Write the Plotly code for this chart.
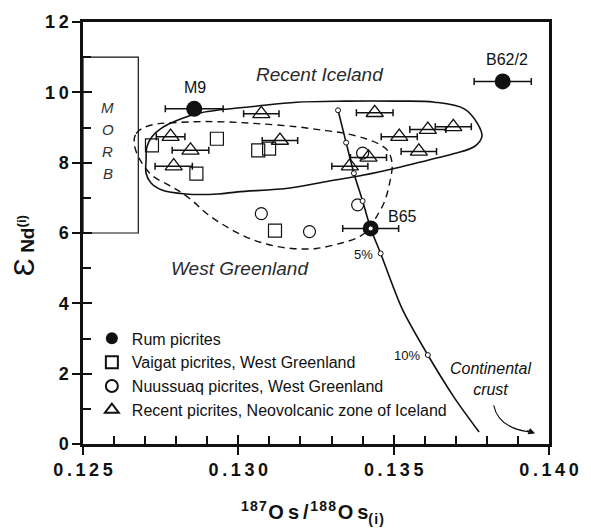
import plotly.graph_objects as go

# ---------------- data ----------------
rum_names = ["M9", "B62/2", "B65"]
rum_x = [0.12858, 0.13851, 0.13426]
rum_y = [9.53, 10.31, 6.13]
rum_xerr = [0.00093, 0.00092, 0.00090]

vaigat_x = [0.12722, 0.12931, 0.12865, 0.13064, 0.13099, 0.13118]
vaigat_y = [8.49, 8.68, 7.69, 8.35, 8.40, 6.07]

nuus_x = [0.13074, 0.13229, 0.13384, 0.13400]
nuus_y = [6.55, 6.04, 6.80, 8.27]

ice_x = [0.12782, 0.12846, 0.12792, 0.13074, 0.13134, 0.13439,
         0.13359, 0.13419, 0.13518, 0.13581, 0.13610, 0.13692]
ice_y = [8.74, 8.35, 7.90, 9.39, 8.63, 9.42,
         7.90, 8.15, 8.74, 8.32, 8.94, 9.02]
ice_xerr = [0.00046, 0.00059, 0.00060, 0.00057, 0.00057, 0.00059,
            0.00058, 0.00058, 0.00058, 0.00057, 0.00058, 0.00058]

# mixing curve towards continental crust
mix_x = [0.13321, 0.13347, 0.13372, 0.13400, 0.13426, 0.13458, 0.13527, 0.13610, 0.13695, 0.13775]
mix_y = [9.49, 8.57, 7.70, 6.91, 6.13, 5.42, 3.85, 2.53, 1.32, 0.34]
mix_marked = [0, 1, 2, 3, 4, 5, 7]

# Recent Iceland field (solid)
iceland_env_x = [0.12703, 0.12706, 0.12722, 0.12754, 0.12808, 0.12880, 0.13061, 0.13188, 0.13346,
                 0.13505, 0.13632, 0.13727, 0.13770, 0.13784, 0.13760, 0.13695, 0.13610, 0.13505,
                 0.13400, 0.13293, 0.13166, 0.12998, 0.12934, 0.12830, 0.12754, 0.12719, 0.12703, 0.12703]
iceland_env_y = [8.07, 8.46, 8.74, 8.99, 9.22, 9.42, 9.61, 9.72, 9.75,
                 9.75, 9.72, 9.53, 9.11, 8.74, 8.46, 8.26, 8.07, 7.84,
                 7.64, 7.48, 7.28, 7.17, 7.11, 7.11, 7.22, 7.42, 7.70, 8.07]

# West Greenland field (dashed)
wg_env_x = [0.12665, 0.12671, 0.12712, 0.12849, 0.12956, 0.13061, 0.13188, 0.13283, 0.13346,
            0.13410, 0.13451, 0.13480, 0.13495, 0.13487, 0.13469, 0.13443, 0.13416, 0.13384,
            0.13330, 0.13251, 0.13172, 0.13093, 0.13007, 0.12903, 0.12849, 0.12808, 0.12776,
            0.12722, 0.12681, 0.12665]
wg_env_y = [8.54, 8.83, 9.05, 9.16, 9.16, 9.11, 9.02, 8.91, 8.83,
            8.68, 8.54, 8.35, 7.98, 7.42, 6.86, 6.44, 6.07, 5.87,
            5.71, 5.56, 5.56, 5.68, 5.96, 6.52, 6.94, 7.20, 7.36,
            7.64, 8.12, 8.54]

morb_x = [0.125, 0.12678]
morb_y = [6.0, 11.0]

x_ticks = [0.125, 0.130, 0.135, 0.140]
x_ticklabels = ["0.125", "0.130", "0.135", "0.140"]
y_ticks = [0, 2, 4, 6, 8, 10, 12]
y_ticklabels = ["0", "2", "4", "6", "8", "10", "12"]

legend_names = ["Rum picrites", "Vaigat picrites, West Greenland",
                "Nuussuaq picrites, West Greenland", "Recent picrites, Neovolcanic zone of Iceland"]

FONT = "Liberation Sans, Arial, Helvetica, sans-serif"
INK = "#111111"
THIN = "\u2009"
HAIR = "\u200a"

def spaced(s):
    return THIN.join(s)

fig = go.Figure()

# envelopes
fig.add_trace(go.Scatter(x=iceland_env_x, y=iceland_env_y, mode="lines",
                         line=dict(color=INK, width=1.6, shape="spline", smoothing=1.0),
                         showlegend=False, hoverinfo="skip"))
fig.add_trace(go.Scatter(x=wg_env_x, y=wg_env_y, mode="lines",
                         line=dict(color=INK, width=1.4, dash="7px,5px", shape="spline", smoothing=1.0),
                         showlegend=False, hoverinfo="skip"))

# mixing curve
fig.add_trace(go.Scatter(x=mix_x, y=mix_y, mode="lines",
                         line=dict(color=INK, width=1.6, shape="spline", smoothing=0.8),
                         showlegend=False, hoverinfo="skip"))

err_style = dict(type="data", thickness=1.5, width=3.5, color=INK)

fig.add_trace(go.Scatter(x=vaigat_x, y=vaigat_y, mode="markers", name=legend_names[1],
                         marker=dict(symbol="square-open", size=13, color=INK, line=dict(width=1.2)),
                         legendrank=2))
fig.add_trace(go.Scatter(x=nuus_x, y=nuus_y, mode="markers", name=legend_names[2],
                         marker=dict(symbol="circle-open", size=12, color=INK, line=dict(width=1.2)),
                         legendrank=3))
fig.add_trace(go.Scatter(x=ice_x, y=ice_y, mode="markers", name=legend_names[3],
                         error_x=dict(array=ice_xerr, **err_style),
                         marker=dict(symbol="triangle-up-open", size=15, color=INK, line=dict(width=1.3)),
                         legendrank=4))
fig.add_trace(go.Scatter(x=rum_x, y=rum_y, mode="markers", name=legend_names[0],
                         error_x=dict(array=rum_xerr, **err_style),
                         marker=dict(symbol="circle", size=16, color=INK),
                         legendrank=1))

# small tick marks on the mixing curve
fig.add_trace(go.Scatter(x=[mix_x[i] for i in mix_marked], y=[mix_y[i] for i in mix_marked],
                         mode="markers", showlegend=False, hoverinfo="skip",
                         marker=dict(symbol="circle", size=5, color="white", line=dict(color=INK, width=1))))

# overlay axes subplot for inside ticks
fig.add_trace(go.Scatter(x=[], y=[], xaxis="x2", yaxis="y2", showlegend=False))

# MORB box
fig.add_shape(type="rect", x0=morb_x[0], x1=morb_x[1], y0=morb_y[0], y1=morb_y[1],
              line=dict(color=INK, width=1.2), layer="below")

ann = []
def label(text, x, y, size, italic=False, color=INK, xanchor="center", yanchor="middle"):
    t = f"<i>{text}</i>" if italic else text
    ann.append(dict(text=t, x=x, y=y, xref="x", yref="y", showarrow=False,
                    font=dict(family=FONT, size=size, color=color),
                    xanchor=xanchor, yanchor=yanchor))

for ch, yy in zip("MORB", [9.56, 8.94, 8.32, 7.70]):
    label(ch, 0.12579, yy, 15, italic=True, color="#333333")

label("Recent Iceland", 0.13264, 10.51, 19, italic=True, color="#2a2a2a")
label("West Greenland", 0.13004, 5.00, 19, italic=True, color="#2a2a2a")
label("M9", 0.12861, 10.15, 16)
label("B62/2", 0.13866, 10.93, 16)
label("B65", 0.13530, 6.48, 16)
label("5%", 0.13441, 5.40, 13, xanchor="right")
label("10%", 0.13591, 2.53, 13, xanchor="right")
ann.append(dict(text="<i>Continental</i><br><i>crust</i>", x=0.13812, y=1.85, xref="x", yref="y",
                showarrow=False, font=dict(family=FONT, size=16, color=INK),
                xanchor="center", yanchor="middle", align="center"))

# curved arrow to continental crust
fig.add_shape(type="path", path="M 0.13822,1.10 Q 0.13838,0.42 0.13950,0.33",
              line=dict(color=INK, width=1.1))
ann.append(dict(text="", x=0.13955, y=0.30, ax=0.13925, ay=0.40, xref="x", yref="y",
                axref="x", ayref="y", showarrow=True, arrowhead=2, arrowsize=1.2,
                arrowwidth=1.1, arrowcolor=INK))

# axis titles
xt = ("<sup>" + HAIR.join("187") + "</sup>" + HAIR + "O" + THIN + "s" + THIN + "/" + HAIR +
      "<sup>" + HAIR.join("188") + "</sup>" + HAIR + "O" + THIN + "s" +
      "<sub>" + HAIR.join("(i)") + "</sub>")
ann.append(dict(text=xt, x=(316 - 83) / 473, y=(444 - 513) / 427, xref="paper", yref="paper",
                showarrow=False, xanchor="center", yanchor="middle",
                font=dict(family=FONT, size=20, color=INK, weight="bold")))
ann.append(dict(text="<span style='font-size:30px;font-weight:normal'>\u0190</span> Nd<sup>(i)</sup>",
                x=(22 - 83) / 473, y=(444 - 243) / 427, xref="paper", yref="paper",
                showarrow=False, xanchor="center", yanchor="middle", textangle=-90,
                font=dict(family=FONT, size=19, color=INK, weight="bold")))

fig.update_layout(
    width=591, height=530,
    margin=dict(l=83, r=35, t=17, b=86),
    paper_bgcolor="white", plot_bgcolor="white",
    font=dict(family=FONT, color=INK),
    annotations=ann,
    showlegend=True,
    legend=dict(x=(92 - 83) / 473, y=(444 - 320) / 427, xanchor="left", yanchor="top",
                bgcolor="rgba(0,0,0,0)", font=dict(family=FONT, size=16, color=INK),
                itemsizing="constant", tracegroupgap=0),
    xaxis=dict(range=[0.125, 0.140], showgrid=False, zeroline=False,
               showline=True, linecolor=INK, linewidth=2.5, mirror=True,
               tickmode="array", tickvals=x_ticks, ticktext=[spaced(t) for t in x_ticklabels],
               ticks="outside", ticklen=8, tickwidth=2, tickcolor=INK,
               tickfont=dict(family=FONT, size=18, color=INK, weight="bold")),
    yaxis=dict(range=[0, 12], showgrid=False, zeroline=False,
               showline=True, linecolor=INK, linewidth=2.5, mirror=True,
               tickmode="array", tickvals=y_ticks, ticktext=[spaced(t) for t in y_ticklabels],
               ticks="outside", ticklen=8, tickwidth=2, tickcolor=INK,
               tickfont=dict(family=FONT, size=18, color=INK, weight="bold")),
    xaxis2=dict(range=[0.125, 0.140], overlaying="x", anchor="y2", showgrid=False, zeroline=False,
                showline=False, showticklabels=False, tickmode="linear", tick0=0.125, dtick=0.005,
                ticks="inside", ticklen=9, tickwidth=2, tickcolor=INK,
                minor=dict(tickmode="linear", tick0=0.125, dtick=0.001, ticks="inside",
                           ticklen=8, tickwidth=1.6, tickcolor=INK)),
    yaxis2=dict(range=[0, 12], overlaying="y", anchor="x2", showgrid=False, zeroline=False,
                showline=False, showticklabels=False, tickmode="linear", tick0=0, dtick=2,
                ticks="inside", ticklen=9, tickwidth=2, tickcolor=INK,
                minor=dict(tickmode="linear", tick0=0, dtick=1, ticks="inside",
                           ticklen=8, tickwidth=1.6, tickcolor=INK)),
)

fig.write_html("out.html")
